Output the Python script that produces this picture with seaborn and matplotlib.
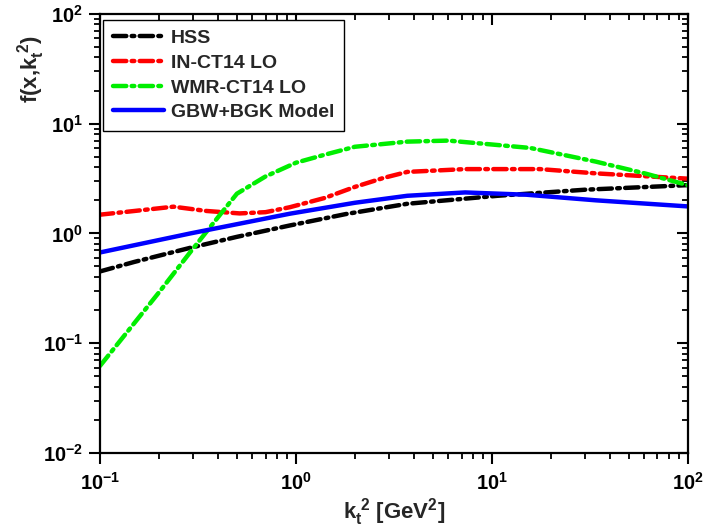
import pandas as pd
import numpy as np
import seaborn as sns
import matplotlib.pyplot as plt
from matplotlib.lines import TICKDOWN, TICKLEFT

# ------------------------------
# Values
# ------------------------------
hss_x = [0.1, 0.15, 0.29, 0.5, 0.93, 1.8, 3.7, 10.7, 30, 100]
hss_y = [0.45, 0.55, 0.74, 0.93, 1.18, 1.5, 1.86, 2.2, 2.5, 2.75]

inct_x = [0.1, 0.15, 0.237, 0.35, 0.516, 0.7, 0.93, 1.4, 2.0, 2.8, 3.7, 7.3, 17.6, 34, 100]
inct_y = [1.48, 1.6, 1.75, 1.6, 1.52, 1.56, 1.73, 2.1, 2.65, 3.2, 3.63, 3.85, 3.85, 3.52, 3.15]

wmr_x = [0.1, 0.2, 0.29, 0.4, 0.5, 0.7, 1.0, 1.4, 2.0, 3.7, 6.0, 15.7, 34, 61, 100]
wmr_y = [0.062, 0.29, 0.68, 1.4, 2.3, 3.3, 4.4, 5.2, 6.15, 6.85, 7.0, 6.0, 4.5, 3.5, 2.75]

gbw_x = [0.1, 0.29, 0.93, 2.0, 3.7, 7.3, 15, 34, 100]
gbw_y = [0.67, 1.0, 1.51, 1.9, 2.2, 2.36, 2.25, 2.0, 1.76]

labels = ["HSS", "IN-CT14 LO", "WMR-CT14 LO", "GBW+BGK Model"]
colors = ["#000000", "#ff0000", "#00ee00", "#0000ff"]

sns.set_theme(style="ticks", rc={
    "axes.edgecolor": "black",
    "axes.linewidth": 1.6,
    "xtick.color": "black",
    "ytick.color": "black",
    "xtick.major.size": 8,
    "ytick.major.size": 8,
    "xtick.minor.size": 4.5,
    "ytick.minor.size": 4.5,
    "xtick.major.width": 1.5,
    "ytick.major.width": 1.5,
    "xtick.minor.width": 1.3,
    "ytick.minor.width": 1.3,
    "xtick.major.pad": 6,
    "ytick.major.pad": 4,
})
plt.rcParams["font.family"] = ["Liberation Sans", "DejaVu Sans"]
plt.rcParams["font.weight"] = "bold"
plt.rcParams["mathtext.fontset"] = "custom"
plt.rcParams["mathtext.rm"] = "Liberation Sans:bold"
plt.rcParams["mathtext.bf"] = "Liberation Sans:bold"
plt.rcParams["mathtext.it"] = "Liberation Sans:bold"
plt.rcParams["mathtext.default"] = "bf"

fig, ax = plt.subplots(figsize=(7.04, 5.31), dpi=100)
fig.subplots_adjust(left=0.142, right=0.977, bottom=0.147, top=0.974)

ax.set_xscale("log")
ax.set_yscale("log")

series = [(hss_x, hss_y), (inct_x, inct_y), (wmr_x, wmr_y), (gbw_x, gbw_y)]
dashdot = (3, 1.2, 0.6, 1.2)

for (xs, ys), lab, col in zip(series, labels, colors):
    df = pd.DataFrame({"x": xs, "y": ys})
    sns.lineplot(data=df, x="x", y="y", ax=ax, color=col, lw=3.2,
                 label=lab, solid_capstyle="round")
    if lab != "GBW+BGK Model":
        ax.lines[-1].set_dashes(dashdot)
        ax.lines[-1].set_dash_capstyle("round")

ax.set_xlim(0.1, 100)
ax.set_ylim(0.01, 100)

ax.set_xlabel(r"$k_t^{\ 2}$ [GeV$^2$]", fontsize=16, fontweight="bold", labelpad=1)
ax.set_ylabel(r"f(x,k$_t^{\ 2}$)", fontsize=16, fontweight="bold")
ax.yaxis.set_label_coords(-0.09, 0.875)

ax.tick_params(axis="both", which="major", labelsize=14.5, labelcolor="black")
ax.tick_params(axis="both", which="both", top=True, right=True,
               labeltop=False, labelright=False)

leg = ax.legend(loc="upper left", fontsize=14, frameon=True, fancybox=False,
                handlelength=2.6, borderpad=0.5, labelspacing=0.36,
                handletextpad=0.35, bbox_to_anchor=(0.006, 0.986),
                borderaxespad=0)
leg.get_frame().set_edgecolor("black")
leg.get_frame().set_linewidth(1.0)
leg.get_frame().set_alpha(1)
for t in leg.get_texts():
    t.set_fontweight("bold")

# draw once so the real tick objects exist, then style them:
# out on bottom/left, in on top/right
fig.canvas.draw()
for axis, mark in [(ax.xaxis, TICKDOWN), (ax.yaxis, TICKLEFT)]:
    for ticks, size, width in [(axis.get_major_ticks(), 8, 1.5),
                               (axis.get_minor_ticks(), 4.5, 1.3)]:
        for t in ticks:
            for tl in (t.tick1line, t.tick2line):
                tl.set_visible(True)
                tl.set_marker(mark)
                tl.set_markersize(size)
                tl.set_markeredgewidth(width)
                tl.set_markeredgecolor("black")
                tl.set_color("black")
                tl.set_alpha(1)
                tl.set_clip_on(False)
                tl.set_zorder(5)

fig.savefig("out.png", dpi=100)
